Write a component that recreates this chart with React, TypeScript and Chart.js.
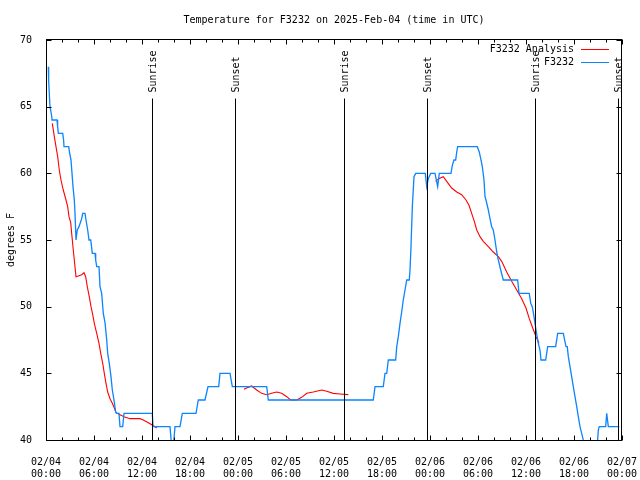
import React, { useEffect, useRef } from 'react';
import { Chart, registerables } from 'chart.js';

Chart.register(...registerables);

const TITLE = 'Temperature for F3232 on 2025-Feb-04 (time in UTC)';
const Y_TITLE = 'degrees F';
const FONT = 'DejaVu Sans Mono';

// x axis: hours since 2025-02-04 00:00 UTC
const tickDates = ['02/04', '02/04', '02/04', '02/04', '02/05', '02/05', '02/05', '02/05', '02/06', '02/06', '02/06', '02/06', '02/07'];
const tickTimes = ['00:00', '06:00', '12:00', '18:00', '00:00', '06:00', '12:00', '18:00', '00:00', '06:00', '12:00', '18:00', '00:00'];

const eventHours = [13.29, 23.66, 37.29, 47.66, 61.16, 71.54];
const eventLabels = ['Sunrise', 'Sunset', 'Sunrise', 'Sunset', 'Sunrise', 'Sunset'];

const seriesLabels = ['F3232 Analysis', 'F3232'];
const seriesColors = ['#ff0000', '#0a84ff'];

// Observations (F3232)
const obsHours = [
  0.29, 0.33, 0.41, 0.5, 0.71, 0.75, 1.375, 1.45, 1.55, 2.09, 2.2, 2.25, 2.84, 2.96, 3.125, 3.25, 3.375, 3.54, 3.625, 3.75,
  3.91, 4.125, 4.46, 4.59, 4.875, 5.0, 5.21, 5.375, 5.59, 5.79, 6.125, 6.21, 6.34, 6.625, 6.75, 6.96, 7.16, 7.375, 7.59, 7.71,
  7.91, 8.125, 8.29, 8.5, 8.71, 8.84, 9.125, 9.25, 9.59, 9.75, 13.29, 13.375, 15.5, 15.71, 15.91, 16.125, 16.75, 17.04, 18.75, 19.04,
  19.875, 20.25, 21.59, 21.75, 23.0, 23.29, 27.59, 27.79, 40.91, 41.125, 42.16, 42.375, 42.59, 42.79, 43.71, 43.84, 44.04, 44.25, 44.46, 44.66,
  44.875, 45.09, 45.41, 45.5, 45.625, 45.79, 46.0, 46.21, 47.41, 47.59, 47.79, 48.09, 48.625, 48.96, 49.16, 50.625, 50.79, 51.0, 51.21, 51.34,
  51.46, 53.91, 54.16, 54.34, 54.54, 54.75, 54.875, 55.0, 55.29, 55.5, 55.71, 55.91, 56.125, 56.34, 56.54, 56.84, 57.16, 58.96, 59.125, 60.41,
  60.59, 60.79, 61.0, 61.25, 61.54, 61.75, 61.875, 62.46, 62.71, 63.71, 63.96, 64.66, 65.0, 65.16, 65.29, 65.5, 65.71, 65.91, 66.125, 66.34,
  66.54, 66.75, 66.96, 67.16, 67.375, 68.8, 68.95, 69.04, 69.16, 69.96, 70.09, 70.29, 71.66,
];
const obsTemps = [
  68, 67, 66, 65, 64.3, 64, 64, 63.5, 63, 63, 62.5, 62, 62, 61.5, 61, 60, 59, 58, 57, 55,
  55.75, 56, 56.6, 57, 57, 56.5, 55.75, 55, 55, 54, 54, 53.5, 53, 53, 51.5, 51, 49.5, 48.8, 47.5, 46.5,
  45.75, 44.75, 43.75, 43, 42.1, 42, 42, 41, 41, 42, 42, 41, 41, 39.5, 39.5, 41, 41, 42, 42, 43,
  43, 44, 44, 45, 45, 44, 44, 43, 43, 44, 44, 45, 45, 46, 46, 47, 47.75, 48.75, 49.6, 50.5,
  51.25, 52, 52, 52.75, 54.5, 57.5, 59.75, 60, 60, 59, 59.6, 60, 60, 59, 60, 60, 60.6, 61, 61, 61.6,
  62, 62, 61.6, 61.1, 60.5, 59.5, 58.25, 58, 57.25, 56.6, 56, 55.75, 55, 54.1, 53.5, 52.75, 52, 52, 51, 51,
  50.25, 50, 49.25, 48.25, 47.25, 46.75, 46, 46, 47, 47, 48, 48, 47, 47, 46.25, 45.5, 44.75, 44, 43.25, 42.5,
  41.75, 41, 40.5, 40, 39, 39, 40, 40.75, 41, 41, 42, 41, 41,
];

// Analysis (F3232 Analysis); null breaks the line
const anaHours = [
  0.79, 1.04, 1.25, 1.46, 1.66, 1.875, 2.16, 2.5, 2.71, 2.875, 3.09, 3.21, 3.41, 3.58, 3.75, 4.04, 4.46, 4.75, 4.96, 5.16,
  5.41, 5.625, 5.84, 6.04, 6.34, 6.625, 6.84, 7.09, 7.29, 7.5, 7.71, 8.0, 8.29, 8.54, 8.75, 9.25, 9.75, 10.5, 11.75, 12.16,
  12.79, 13.33, 13.84, 19,
  24.75, 25.08, 25.7, 26.34, 26.96, 27.59, 28.2, 28.84, 29.46, 30.09, 30.59, 31.34, 31.96, 32.59, 33.41, 34.46, 35.09, 35.9, 36.75, 37.79, 43,
  48.7, 49.1, 49.66, 50.09, 50.7, 51.34, 51.96, 52.5, 52.875, 53.21, 53.54, 53.84, 54.25, 54.66, 55.29, 55.91, 56.54, 56.96, 57.59, 58.21,
  58.84, 59.46, 60.0, 60.41, 60.84, 61.25, 61.625,
];
const anaTemps = [
  63.75, 62.75, 62, 61.25, 60.25, 59.5, 58.75, 58, 57.5, 56.75, 56.3, 55.5, 54.25, 53.25, 52.25, 52.3, 52.4, 52.55, 52.25, 51.5,
  50.75, 50, 49.4, 48.75, 48, 47.25, 46.5, 45.75, 45, 44.25, 43.6, 43.1, 42.75, 42.4, 42.05, 41.9, 41.75, 41.6, 41.6, 41.5,
  41.3, 41.1, 40.9, null,
  43.8, 43.9, 44.05, 43.75, 43.5, 43.4, 43.5, 43.6, 43.5, 43.25, 43.0, 43.0, 43.2, 43.5, 43.6, 43.75, 43.65, 43.5, 43.45, 43.4, null,
  59.4, 59.6, 59.75, 59.4, 58.9, 58.6, 58.4, 58, 57.6, 57, 56.4, 55.75, 55.25, 54.9, 54.5, 54.1, 53.75, 53.4, 52.6, 51.9,
  51.25, 50.6, 49.9, 49.1, 48.4, 47.75, 47.25,
];

const framePlugin = {
  id: 'gnuFrame',
  afterDatasetsDraw(chart: any) {
    const { ctx, chartArea: a, scales } = chart;
    const xs = scales.x;
    const ys = scales.y;
    const L = Math.round(a.left) + 0.5;
    const R = Math.round(a.right) - 0.5;
    const T = Math.round(a.top) - 0.5;
    const B = Math.round(a.bottom) + 0.5;
    ctx.save();
    ctx.strokeStyle = '#000';
    ctx.lineWidth = 1;

    // sunrise / sunset markers
    ctx.font = `10px ${FONT}`;
    ctx.fillStyle = '#000';
    eventHours.forEach((h, i) => {
      const px = Math.round(xs.getPixelForValue(h)) + 0.5;
      ctx.beginPath();
      ctx.moveTo(px, T + 59);
      ctx.lineTo(px, B);
      ctx.stroke();
      ctx.save();
      ctx.translate(px + 1, T + 53);
      ctx.rotate(-Math.PI / 2);
      ctx.textAlign = 'left';
      ctx.textBaseline = 'middle';
      ctx.fillText(eventLabels[i], 0, 0);
      ctx.restore();
    });

    // border
    ctx.strokeRect(L, T, R - L, B - T);

    // x ticks (major every 6h, minor every 2h), mirrored on top
    ctx.beginPath();
    for (let v = xs.min; v <= xs.max + 1e-9; v += 2) {
      const px = Math.round(xs.getPixelForValue(v)) + 0.5;
      const len = v % 6 === 0 ? 5 : 3;
      ctx.moveTo(px, B);
      ctx.lineTo(px, B - len);
      ctx.moveTo(px, T);
      ctx.lineTo(px, T + len);
    }
    // y ticks, mirrored on right
    ys.ticks.forEach((t: any) => {
      const py = Math.round(ys.getPixelForValue(t.value)) + 0.5;
      ctx.moveTo(L, py);
      ctx.lineTo(L + 5, py);
      ctx.moveTo(R, py);
      ctx.lineTo(R - 5, py);
    });
    ctx.stroke();
    ctx.restore();
  },
  afterDraw(chart: any) {
    const { ctx, chartArea: a } = chart;
    ctx.save();
    ctx.font = `10px ${FONT}`;
    ctx.textAlign = 'right';
    ctx.textBaseline = 'middle';
    seriesLabels.forEach((lab, i) => {
      const y = Math.round(a.top + 9 + 13 * i) + 0.5;
      ctx.fillStyle = '#000';
      ctx.fillText(lab, a.right - 48, y);
      ctx.strokeStyle = seriesColors[i];
      ctx.lineWidth = 1;
      ctx.beginPath();
      ctx.moveTo(a.right - 41, y);
      ctx.lineTo(a.right - 13, y);
      ctx.stroke();
    });
    ctx.restore();
  },
};

export default function App() {
  const ref = useRef<HTMLCanvasElement | null>(null);

  useEffect(() => {
    if (!ref.current) return;
    Chart.defaults.font.family = FONT;
    Chart.defaults.font.size = 10;
    Chart.defaults.color = '#000';

    const anaData = anaHours.map((h, i) => ({ x: h, y: anaTemps[i] }));
    const obsData = obsHours.map((h, i) => ({ x: h, y: obsTemps[i] }));

    const chart = new Chart(ref.current, {
      type: 'line',
      data: {
        datasets: [
          {
            label: seriesLabels[0],
            data: anaData as any,
            borderColor: seriesColors[0],
            borderWidth: 1.1,
            pointRadius: 0,
            tension: 0,
            spanGaps: false,
            order: 1,
          },
          {
            label: seriesLabels[1],
            data: obsData as any,
            borderColor: seriesColors[1],
            borderWidth: 1.3,
            pointRadius: 0,
            tension: 0,
            order: 0,
          },
        ],
      },
      options: {
        responsive: false,
        animation: false,
        parsing: false as any,
        layout: { padding: { left: 0, right: 18, top: 0, bottom: 0 } },
        plugins: {
          legend: { display: false },
          tooltip: { enabled: false },
          title: {
            display: true,
            text: TITLE,
            fullSize: false,
            color: '#000',
            font: { family: FONT, size: 10, weight: 'normal' as any, lineHeight: 1.2 },
            padding: { top: 14, bottom: 14 },
          },
        },
        scales: {
          x: {
            type: 'linear',
            min: 0,
            max: 72,
            grid: { display: false },
            border: { display: false },
            ticks: {
              stepSize: 6,
              autoSkip: false,
              maxRotation: 0,
              padding: 8,
              font: { family: FONT, size: 10, lineHeight: 1.2 },
              callback: (v: any) => {
                const i = Math.round(Number(v) / 6);
                return [tickDates[i], tickTimes[i]];
              },
            },
            afterFit: (s: any) => {
              s.height = 40;
              s.paddingLeft = 0;
              s.paddingRight = 0;
            },
          },
          y: {
            min: 40,
            max: 70,
            grid: { display: false },
            border: { display: false },
            ticks: { stepSize: 5, padding: 6, font: { family: FONT, size: 10 } },
            title: {
              display: true,
              text: Y_TITLE,
              font: { family: FONT, size: 10, lineHeight: 1.2 },
              padding: { top: 5, bottom: 0 },
            },
            afterFit: (s: any) => {
              s.width = 46;
              s.paddingTop = 0;
              s.paddingBottom = 0;
            },
          },
        },
      },
      plugins: [framePlugin],
    });
    return () => chart.destroy();
  }, []);

  return (
    <div style={{ position: 'absolute', left: 0, top: 0, width: 640, height: 480, background: '#fff' }}>
      <canvas ref={ref} width={640} height={480} style={{ width: 640, height: 480, display: 'block' }} />
    </div>
  );
}
